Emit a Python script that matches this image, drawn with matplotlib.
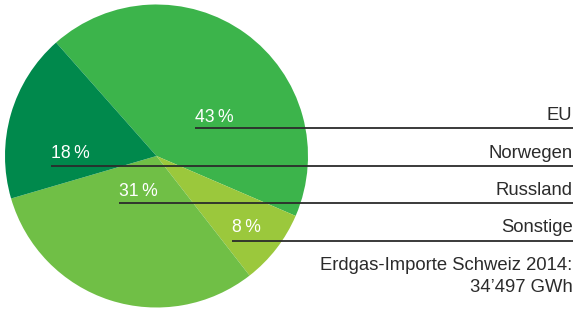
import matplotlib
matplotlib.use("Agg")
import matplotlib.pyplot as plt

categories = ["EU", "Sonstige", "Russland", "Norwegen"]
values = [43, 8, 31, 18]
colors = ["#3cb44b", "#9bc83c", "#70bf46", "#00894c"]
legend_order = ["EU", "Norwegen", "Russland", "Sonstige"]
note = "Erdgas-Importe Schweiz 2014:\n34\u2019497 GWh"

W, H = 575, 309
fig = plt.figure(figsize=(W / 100, H / 100), dpi=100)
ax = fig.add_axes([0, 0, 1, 1])
fam = ["Liberation Sans", "DejaVu Sans"]

ax.pie(values, colors=colors, startangle=131.5, counterclock=False,
       center=(156.5, H - 156), radius=151.5,
       wedgeprops=dict(linewidth=0))
ax.set_xlim(0, W)
ax.set_ylim(0, H)
ax.set_aspect("equal")
ax.axis("off")

# label positions in pixel coords (y from top)
pct_pos = {"EU": (195, 121.5), "Norwegen": (51, 158.5), "Russland": (119, 195.5), "Sonstige": (232, 232.5)}
line_y = {"EU": 128.3, "Norwegen": 166, "Russland": 203.3, "Sonstige": 240.7}
name_y = {"EU": 120, "Norwegen": 158, "Russland": 195, "Sonstige": 232}
vals = dict(zip(categories, values))

fs_txt = 13.3
for cat in legend_order:
    x0, yb = pct_pos[cat]
    ax.text(x0, H - yb, f"{vals[cat]}\u2009%", color="white", fontsize=12.7,
            family=fam, ha="left", va="baseline")
    ax.plot([x0, 573], [H - line_y[cat]] * 2, color="#2b2b2b", lw=1.3,
            solid_capstyle="butt")
    ax.text(572.5, H - name_y[cat], cat, color="#2b2b2b", fontsize=fs_txt,
            family=fam, ha="right", va="baseline")

l1, l2 = note.split("\n")
ax.text(572.5, H - 270, l1, color="#2b2b2b", fontsize=fs_txt, family=fam,
        ha="right", va="baseline")
ax.text(572.5, H - 291.5, l2, color="#2b2b2b", fontsize=fs_txt, family=fam,
        ha="right", va="baseline")

fig.savefig("out.png", dpi=100)
